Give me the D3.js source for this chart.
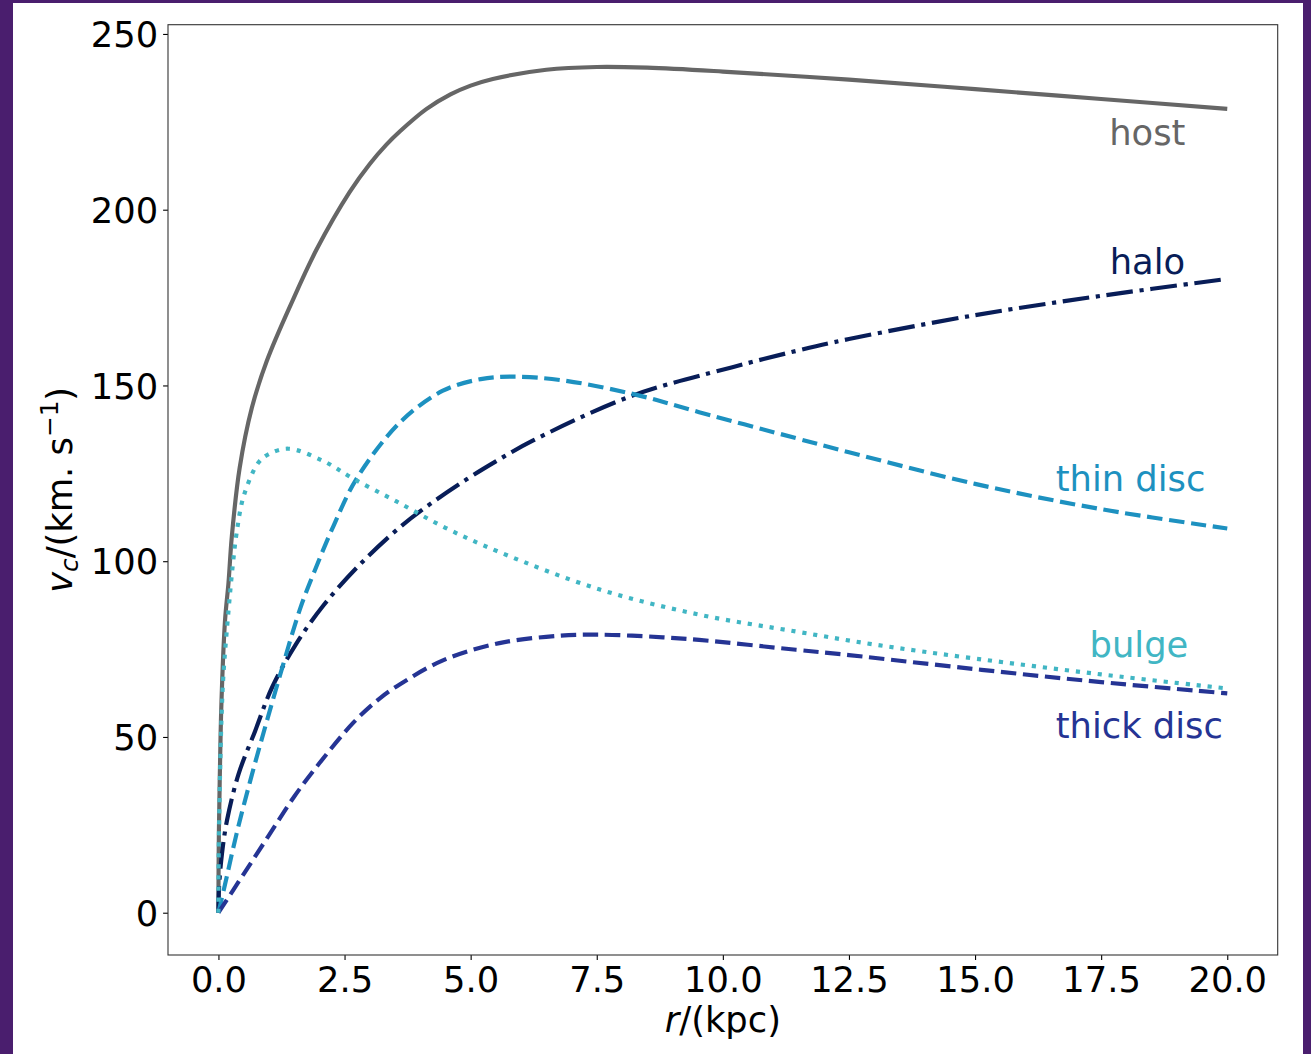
<!DOCTYPE html>
<html>
<head>
<meta charset="utf-8">
<script src="https://cdn.jsdelivr.net/npm/d3@7"></script>
<style>
  html, body { margin: 0; padding: 0; background: #4a1e6e; }
  svg { display: block; }
  text { font-family: "DejaVu Sans", sans-serif; }
</style>
</head>
<body>
<svg id="chart" width="1311" height="1054"></svg>
<script>
// Circular velocity curves of the Galactic components, r in kpc, v_c in km/s
const rHost  = [0, 0.003, 0.01, 0.03, 0.06, 0.13, 0.2, 0.265, 0.42, 0.66, 0.96, 1.45, 1.95, 2.6, 3.0, 3.33, 3.6, 4.12, 4.6, 5.0, 5.44, 6.5, 7.5, 8.5, 10, 12.5, 15, 17.5, 20];
const vHost  = [0, 13, 24, 41, 60, 83, 94, 107, 126.5, 143.5, 157, 173.5, 188.8, 205, 213, 218.5, 222.3, 228.6, 232.8, 235.3, 237.2, 239.8, 240.6, 240.4, 239.3, 237, 234.3, 231.5, 228.7];

const rHalo  = [0, 0.003, 0.015, 0.07, 0.17, 0.4, 0.73, 1.06, 1.52, 2.08, 2.8, 3.6, 4.2, 4.92, 5.5, 6.23, 8.21, 10.19, 11.45, 12.5, 15, 17.5, 20];
const vHalo  = [0, 3.5, 8, 16.8, 26.3, 39.5, 51.8, 64, 76, 87.4, 99, 109.7, 116.3, 123.3, 128.4, 134.3, 147.1, 155.2, 159.8, 163.2, 170, 175.5, 180.3];

const rThin  = [0, 0.13, 0.36, 0.63, 0.89, 1.22, 1.62, 1.9, 2.28, 2.74, 3.6, 4.45, 5.2, 5.83, 6.8, 8.21, 9.53, 11.45, 12.5, 15, 17.5, 20];
const vThin  = [0, 8, 22.5, 37.5, 51, 67.5, 86.5, 97, 110, 123.5, 139.5, 148.5, 151.8, 152.5, 151.5, 147.6, 142.4, 135, 131, 122, 114.8, 109.3];

const rThick = [0, 0.5, 1, 1.5, 2, 2.67, 3.2, 3.6, 4.45, 5.57, 6.76, 7.5, 8.5, 9.53, 11.45, 12.5, 15, 17.5, 20];
const vThick = [0, 11, 22, 33, 42.5, 54, 61, 65, 71.8, 76.7, 78.8, 79.1, 78.6, 77.6, 74.8, 73.3, 69.3, 65.6, 62.4];

const rBulge = [0, 0.003, 0.01, 0.03, 0.06, 0.1, 0.2, 0.285, 0.36, 0.5, 0.79, 1.0, 1.39, 2.08, 2.67, 3.53, 4.5, 5.57, 7.55, 9.53, 11.45, 13, 15, 17.5, 20];
const vBulge = [0, 12, 22, 38, 55, 68, 86, 99, 108, 118.5, 128, 130.5, 132, 128.5, 123.5, 117, 109.5, 102.6, 92, 84.8, 80, 76.3, 72.3, 67.8, 63.8];

const componentNames = ["host", "halo", "thin disc", "thick disc", "bulge"];
const xTickValues = [0, 2.5, 5, 7.5, 10, 12.5, 15, 17.5, 20];
const yTickValues = [0, 50, 100, 150, 200, 250];

const zip = (rs, vs) => rs.map((r, i) => ({ r, v: vs[i] }));
const components = [
  { name: "host",       pts: zip(rHost, vHost) },
  { name: "halo",       pts: zip(rHalo, vHalo) },
  { name: "thin disc",  pts: zip(rThin, vThin) },
  { name: "thick disc", pts: zip(rThick, vThick) },
  { name: "bulge",      pts: zip(rBulge, vBulge) }
];

// styling
const LW = 4.17;
const style = {
  "host":       { color: "#666666", dash: null },
  "halo":       { color: "#081d58", dash: [6.4 * LW, 1.6 * LW, 1 * LW, 1.6 * LW] },
  "thin disc":  { color: "#1d91c0", dash: [3.7 * LW, 1.6 * LW] },
  "thick disc": { color: "#253494", dash: [3.7 * LW, 1.6 * LW] },
  "bulge":      { color: "#41b6c4", dash: [1 * LW, 1.65 * LW] }
};
// label anchor (start, baseline) in data units
const labelPos = {
  "host":       [17.66, 218.4],
  "halo":       [17.67, 181.6],
  "thin disc":  [16.6, 120.0],
  "bulge":      [17.27, 72.7],
  "thick disc": [16.6, 49.6]
};

const svg = d3.select("#chart");
const W = 1311, H = 1054;
svg.append("rect").attr("x", 0).attr("y", 0).attr("width", W).attr("height", H).attr("fill", "#4a1e6e");
svg.append("rect").attr("x", 13).attr("y", 3).attr("width", 1290).attr("height", H - 3).attr("fill", "#ffffff");

const plot = { left: 168, right: 1277.7, top: 24.7, bottom: 955 };

// matplotlib-like 5% auto margins
const allPts = components.flatMap(c => c.pts);
const rExt = d3.extent(allPts, d => d.r), vExt = d3.extent(allPts, d => d.v);
const rPad = (rExt[1] - rExt[0]) * 0.05, vPad = (vExt[1] - vExt[0]) * 0.05;

const x = d3.scaleLinear().domain([rExt[0] - rPad, rExt[1] + rPad]).range([plot.left, plot.right]);
const y = d3.scaleLinear().domain([vExt[0] - vPad, vExt[1] + vPad]).range([plot.bottom, plot.top]);

const FS = 35.3;

// curves
const line = d3.line().x(d => x(d.r)).y(d => y(d.v)).curve(d3.curveCatmullRom.alpha(0.5));
const g = svg.append("g");
components.forEach(c => {
  const s = style[c.name];
  g.append("path")
    .datum(c.pts)
    .attr("d", line)
    .attr("fill", "none")
    .attr("stroke", s.color)
    .attr("stroke-width", LW)
    .attr("stroke-linecap", "butt")
    .attr("stroke-linejoin", "round")
    .attr("stroke-dasharray", s.dash ? s.dash.join(",") : null);
});

// labels
componentNames.forEach(n => {
  const [lr, lv] = labelPos[n];
  svg.append("text")
    .attr("x", x(lr)).attr("y", y(lv))
    .attr("fill", style[n].color)
    .attr("font-size", FS)
    .text(n);
});

// axes
const fmt = d3.format(".1f");
const xAxis = svg.append("g")
  .attr("transform", `translate(0,${plot.bottom})`)
  .call(d3.axisBottom(x).tickValues(xTickValues).tickFormat(fmt).tickSize(4.9).tickPadding(4.9));
const yAxis = svg.append("g")
  .attr("transform", `translate(${plot.left},0)`)
  .call(d3.axisLeft(y).tickValues(yTickValues).tickFormat(d3.format("d")).tickSize(4.9).tickPadding(4.9));
[xAxis, yAxis].forEach(a => {
  a.select(".domain").remove();
  a.selectAll(".tick line").attr("stroke", "#000").attr("stroke-width", 1.1);
  a.selectAll(".tick text").attr("font-size", FS).attr("fill", "#000")
    .attr("font-family", "DejaVu Sans");
});
xAxis.selectAll(".tick text").attr("dy", null).attr("y", 36.7);
yAxis.selectAll(".tick text").attr("dy", "0.36em");

// frame
svg.append("rect")
  .attr("x", plot.left).attr("y", plot.top)
  .attr("width", plot.right - plot.left).attr("height", plot.bottom - plot.top)
  .attr("fill", "none").attr("stroke", "#333").attr("stroke-width", 1.1);

// axis titles
const xl = svg.append("text")
  .attr("x", (plot.left + plot.right) / 2).attr("y", 1032)
  .attr("text-anchor", "middle").attr("font-size", FS).attr("fill", "#000");
xl.append("tspan").attr("font-style", "italic").text("r");
xl.append("tspan").text("/(kpc)");

const yl = svg.append("text")
  .attr("transform", `translate(72,${(plot.top + plot.bottom) / 2}) rotate(-90)`)
  .attr("text-anchor", "middle").attr("font-size", FS).attr("fill", "#000");
yl.append("tspan").attr("font-style", "italic").text("v");
yl.append("tspan").attr("font-style", "italic").attr("font-size", FS * 0.7).attr("dy", 6).text("c");
yl.append("tspan").attr("dy", -6).text("/(km. s");
yl.append("tspan").attr("font-size", FS * 0.7).attr("dy", -14).text("\u22121");
yl.append("tspan").attr("dy", 14).text(")");
</script>
</body>
</html>
